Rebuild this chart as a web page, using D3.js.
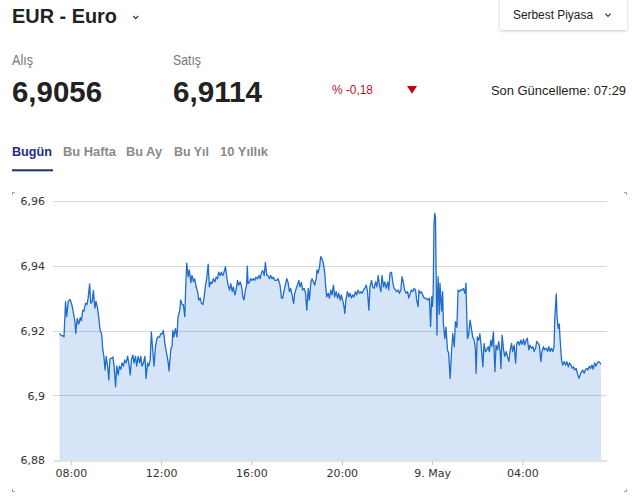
<!DOCTYPE html>
<html>
<head>
<meta charset="utf-8">
<script src="https://cdn.jsdelivr.net/npm/d3@7"></script>
<style>
  html, body { margin: 0; padding: 0; background: #fff; }
  svg { display: block; }
</style>
</head>
<body>
<svg id="chart" width="632" height="502"></svg>
<script>
// ---------- DATA ----------
const currencyTitle = "EUR - Euro";
const marketLabel = "Serbest Piyasa";
const buyLabel = "Alış", sellLabel = "Satış";
const buyValue = "6,9056", sellValue = "6,9114";
const changeText = "% -0,18";
const updateText = "Son Güncelleme: 07:29";
const tabs = ["Bugün", "Bu Hafta", "Bu Ay", "Bu Yıl", "10 Yıllık"];

// start of series: 8 May 07:30; entries are [minutes after start, rate]
const seriesStart = new Date(2019, 4, 8, 7, 30);
const rateSeries = [
[0,6.9191],[3,6.9186],[12,6.9181],[16,6.9289],[19,6.9243],[23,6.9289],[28,6.9296],[33,6.9279],[37,6.9254],[41,6.9227],
[43,6.9191],[47,6.9237],[51,6.922],[55,6.924],[58,6.923],[62,6.9263],[65,6.926],[69,6.9284],[73,6.928],[76,6.930],
[80,6.9344],[83,6.9284],[87,6.929],[90,6.9323],[94,6.9269],[97,6.929],[101,6.927],[104,6.9243],[108,6.920],[112,6.919],
[115,6.914],[118,6.9119],[121,6.9078],[124,6.912],[128,6.9088],[131,6.9047],[134,6.9113],[138,6.9114],[142,6.9118],[145,6.909],
[149,6.9026],[152,6.909],[156,6.9063],[159,6.909],[163,6.908],[166,6.910],[170,6.909],[173,6.9109],[177,6.910],[181,6.9121],
[184,6.910],[188,6.9063],[191,6.911],[195,6.9124],[198,6.910],[202,6.912],[205,6.909],[209,6.912],[213,6.910],[216,6.912],
[219,6.909],[223,6.910],[227,6.912],[230,6.9052],[234,6.910],[237,6.909],[241,6.911],[244,6.9196],[248,6.9135],[251,6.909],
[255,6.915],[259,6.9176],[262,6.918],[266,6.918],[269,6.919],[273,6.919],[276,6.920],[280,6.916],[285,6.9126],[289,6.910],
[291,6.9075],[296,6.9145],[299,6.915],[301,6.920],[304,6.918],[308,6.9206],[312,6.918],[315,6.9243],[319,6.9258],[322,6.9294],
[326,6.928],[329,6.928],[333,6.9243],[335,6.9325],[338,6.9408],[342,6.9366],[345,6.9387],[349,6.9348],[352,6.937],[356,6.9351],
[359,6.936],[363,6.9335],[367,6.932],[370,6.9294],[374,6.930],[377,6.9284],[381,6.928],[384,6.930],[388,6.934],[391,6.936],
[395,6.9405],[398,6.9335],[402,6.935],[405,6.9345],[409,6.936],[413,6.935],[416,6.9365],[420,6.936],[423,6.938],[427,6.937],
[430,6.938],[434,6.937],[437,6.938],[441,6.9397],[445,6.936],[448,6.934],[452,6.9325],[455,6.9345],[459,6.932],[462,6.9335],
[466,6.931],[469,6.9325],[473,6.9355],[476,6.934],[480,6.935],[484,6.9335],[487,6.9304],[490,6.9294],[494,6.9325],[497,6.934],
[499,6.9399],[501,6.9345],[505,6.935],[508,6.936],[512,6.9355],[515,6.936],[519,6.9355],[522,6.9365],[526,6.936],[530,6.937],
[533,6.936],[537,6.938],[540,6.9385],[544,6.937],[547,6.941],[551,6.937],[554,6.937],[558,6.936],[561,6.937],[565,6.936],
[568,6.9365],[572,6.9355],[577,6.9355],[581,6.936],[586,6.934],[590,6.930],[593,6.930],[597,6.9325],[600,6.934],[604,6.936],
[607,6.935],[611,6.932],[614,6.933],[618,6.931],[622,6.9284],[625,6.9315],[629,6.933],[632,6.934],[636,6.9355],[639,6.9335],
[643,6.9348],[646,6.9325],[650,6.933],[654,6.9315],[657,6.9263],[661,6.933],[664,6.9294],[668,6.935],[671,6.936],[675,6.935],
[678,6.934],[682,6.936],[684,6.9387],[687,6.9377],[691,6.9397],[694,6.9428],[698,6.942],[701,6.9408],[705,6.9377],[707,6.934],
[710,6.9304],[714,6.9315],[717,6.930],[721,6.9325],[724,6.931],[728,6.934],[731,6.9304],[735,6.932],[739,6.930],[742,6.9315],
[746,6.9294],[749,6.931],[753,6.929],[756,6.9274],[758,6.9253],[761,6.9294],[765,6.932],[769,6.9304],[772,6.9315],[776,6.930],
[779,6.931],[783,6.9304],[786,6.932],[790,6.931],[793,6.9325],[797,6.9315],[801,6.932],[804,6.9315],[808,6.9325],[811,6.933],
[815,6.934],[818,6.9325],[822,6.9263],[825,6.9335],[829,6.9355],[832,6.9335],[836,6.933],[840,6.935],[843,6.9335],[847,6.937],
[850,6.934],[854,6.932],[857,6.937],[861,6.9335],[864,6.935],[868,6.933],[872,6.935],[875,6.9325],[878,6.9377],[882,6.938],
[886,6.9346],[889,6.933],[893,6.9325],[896,6.932],[900,6.9325],[903,6.9315],[907,6.9325],[910,6.9366],[914,6.9346],[917,6.9325],
[921,6.9315],[925,6.932],[928,6.930],[932,6.9315],[935,6.9325],[939,6.932],[942,6.933],[946,6.9325],[949,6.9294],[953,6.9274],
[955,6.9325],[958,6.9315],[962,6.932],[965,6.931],[969,6.930],[972,6.930],[976,6.9297],[979,6.9294],[983,6.930],[986,6.9212],
[989,6.9304],[991,6.9274],[993,6.932],[995,6.9521],[997,6.9562],[999,6.955],[1001,6.935],[1003,6.9186],[1004,6.929],[1006,6.9366],
[1009,6.925],[1011,6.9346],[1015,6.926],[1018,6.932],[1020,6.9222],[1024,6.9175],[1027,6.921],[1031,6.914],[1034,6.913],[1038,6.9052],
[1042,6.914],[1045,6.919],[1049,6.915],[1052,6.9227],[1056,6.921],[1059,6.9325],[1063,6.932],[1066,6.9326],[1070,6.9325],[1073,6.933],
[1077,6.9315],[1080,6.9346],[1082,6.925],[1084,6.9175],[1087,6.9186],[1091,6.9232],[1095,6.9202],[1098,6.918],[1102,6.917],[1105,6.9145],
[1107,6.9068],[1110,6.918],[1114,6.917],[1117,6.919],[1121,6.9145],[1125,6.9088],[1128,6.916],[1132,6.9135],[1135,6.914],[1139,6.915],
[1142,6.9135],[1146,6.917],[1149,6.915],[1153,6.9196],[1157,6.9073],[1160,6.9155],[1164,6.914],[1167,6.9166],[1171,6.9135],[1173,6.9083],
[1176,6.9186],[1180,6.914],[1183,6.912],[1187,6.9135],[1190,6.912],[1194,6.9104],[1197,6.9135],[1201,6.916],[1204,6.9135],[1208,6.9155],
[1212,6.9099],[1215,6.916],[1219,6.9166],[1222,6.9155],[1226,6.917],[1229,6.9157],[1233,6.9173],[1236,6.9155],[1240,6.917],[1243,6.9176],
[1247,6.914],[1250,6.9155],[1254,6.9145],[1258,6.915],[1261,6.9135],[1265,6.9145],[1268,6.9166],[1272,6.916],[1275,6.9155],[1279,6.9104],
[1282,6.9135],[1286,6.915],[1289,6.914],[1293,6.9145],[1297,6.9135],[1300,6.915],[1304,6.9135],[1307,6.9145],[1311,6.9135],[1314,6.915],
[1316,6.9238],[1320,6.9313],[1322,6.9243],[1325,6.9207],[1328,6.922],[1330,6.9176],[1334,6.9109],[1337,6.9093],[1341,6.9104],[1345,6.9093],
[1348,6.9104],[1352,6.9088],[1355,6.91],[1359,6.9093],[1362,6.9083],[1366,6.9088],[1369,6.9078],[1373,6.9083],[1376,6.9068],[1380,6.9052],
[1383,6.9062],[1387,6.9073],[1390,6.9078],[1394,6.9068],[1397,6.9078],[1401,6.9083],[1404,6.9078],[1408,6.909],[1411,6.9083],[1415,6.9093],
[1418,6.908],[1422,6.91],[1425,6.909],[1429,6.91],[1433,6.9104],[1436,6.91],[1439,6.9095]
];

const xTickTimes = [
  new Date(2019,4,8,8,0), new Date(2019,4,8,12,0), new Date(2019,4,8,16,0),
  new Date(2019,4,8,20,0), new Date(2019,4,9,0,0), new Date(2019,4,9,4,0)
];
const xTickLabels = ["08:00", "12:00", "16:00", "20:00", "9. May", "04:00"];
const yTickValues = [6.88, 6.90, 6.92, 6.94, 6.96];
const yTickLabels = ["6,88", "6,9", "6,92", "6,94", "6,96"];
const xDomain = [new Date(2019,4,8,7,14), new Date(2019,4,9,7,44)];
const yDomain = [6.88, 6.96];

// ---------- DRAW ----------
const svg = d3.select("#chart");
const sans = "'Liberation Sans', Arial, sans-serif";
const axisFont = "'DejaVu Sans', Verdana, sans-serif";

const defs = svg.append("defs");
const f = defs.append("filter").attr("id", "shadow").attr("x", "-10%").attr("y", "-30%").attr("width", "120%").attr("height", "170%");
f.append("feDropShadow").attr("dx", 0).attr("dy", 1).attr("stdDeviation", 1.4).attr("flood-color", "#000").attr("flood-opacity", 0.22);

// header
svg.append("text").attr("x", 12).attr("y", 22.7).attr("font-family", sans).attr("font-weight", "bold")
  .attr("font-size", 21).attr("fill", "#222").attr("textLength", 105).attr("lengthAdjust", "spacingAndGlyphs")
  .text(currencyTitle);
svg.append("path").attr("d", "M133.2,16 L135.7,18.6 L138.2,16").attr("fill", "none").attr("stroke", "#333").attr("stroke-width", 1.2);

svg.append("rect").attr("x", 500).attr("y", -3).attr("width", 127).attr("height", 33).attr("rx", 1.5)
  .attr("fill", "#fff").attr("filter", "url(#shadow)");
svg.append("text").attr("x", 513).attr("y", 19).attr("font-family", sans).attr("font-size", 12.5)
  .attr("fill", "#222").attr("textLength", 80).attr("lengthAdjust", "spacingAndGlyphs").text(marketLabel);
svg.append("path").attr("d", "M605.3,13.6 L608,16.4 L610.7,13.6").attr("fill", "none").attr("stroke", "#333").attr("stroke-width", 1.2);

svg.append("text").attr("x", 12).attr("y", 65).attr("font-family", sans).attr("font-size", 14)
  .attr("fill", "#777").attr("textLength", 21).attr("lengthAdjust", "spacingAndGlyphs").text(buyLabel);
svg.append("text").attr("x", 173).attr("y", 65).attr("font-family", sans).attr("font-size", 14)
  .attr("fill", "#777").attr("textLength", 28).attr("lengthAdjust", "spacingAndGlyphs").text(sellLabel);
svg.append("text").attr("x", 12).attr("y", 101.7).attr("font-family", sans).attr("font-weight", "bold").attr("font-size", 30)
  .attr("fill", "#222").attr("textLength", 90).attr("lengthAdjust", "spacingAndGlyphs").text(buyValue);
svg.append("text").attr("x", 173).attr("y", 101.7).attr("font-family", sans).attr("font-weight", "bold").attr("font-size", 30)
  .attr("fill", "#222").attr("textLength", 89).attr("lengthAdjust", "spacingAndGlyphs").text(sellValue);
svg.append("text").attr("x", 332).attr("y", 94).attr("font-family", sans).attr("font-size", 12.5)
  .attr("fill", "#b5121b").attr("textLength", 41).attr("lengthAdjust", "spacingAndGlyphs").text(changeText);
svg.append("path").attr("d", "M407,86 L417,86 L412,93.7 Z").attr("fill", "#c4000b");
svg.append("text").attr("x", 626).attr("y", 95).attr("text-anchor", "end").attr("font-family", sans).attr("font-size", 13.5)
  .attr("fill", "#222").attr("textLength", 135).attr("lengthAdjust", "spacingAndGlyphs").text(updateText);

// tabs
const tabX = [12, 63, 126, 174, 220];
const tabW = [40, 53, 36, 35, 48];
tabs.forEach((t, i) => {
  svg.append("text").attr("x", tabX[i]).attr("y", 156).attr("font-family", sans).attr("font-weight", "bold")
    .attr("font-size", 13.5).attr("fill", i === 0 ? "#1b2d7d" : "#8a8a8a")
    .attr("textLength", tabW[i]).attr("lengthAdjust", "spacingAndGlyphs").text(t);
});
svg.append("rect").attr("x", 12).attr("y", 169.3).attr("width", 41).attr("height", 2).attr("fill", "#1b2d7d");

// corner marks of the chart card
const cm = svg.append("g").attr("stroke", "#9a9a9a").attr("stroke-width", 1).attr("fill", "none");
cm.append("path").attr("d", "M12.5,195 V192.5 H15");
cm.append("path").attr("d", "M624,192.5 H626.5 V195");
cm.append("path").attr("d", "M12.5,489 V491.5 H15");
cm.append("path").attr("d", "M624,491.5 H626.5 V489");

// chart
const x = d3.scaleTime().domain(xDomain).range([53.5, 606.7]);
const y = d3.scaleLinear().domain(yDomain).range([460, 201]);
const data = rateSeries.map(d => ({ t: new Date(seriesStart.getTime() + d[0] * 60000), v: d[1] }));

// grid
svg.append("g").selectAll("line").data(yTickValues.slice(1)).join("line")
  .attr("x1", 53.5).attr("x2", 606.7)
  .attr("y1", d => Math.round(y(d)) + 0.5).attr("y2", d => Math.round(y(d)) + 0.5)
  .attr("stroke", "#d8d8d8").attr("stroke-width", 1);

// area + line
const area = d3.area().x(d => x(d.t)).y0(y(yDomain[0])).y1(d => y(d.v));
const line = d3.line().x(d => x(d.t)).y(d => y(d.v));
svg.append("path").datum(data).attr("d", area).attr("fill", "#2f7ed8").attr("fill-opacity", 0.2);
svg.append("path").datum(data).attr("d", line).attr("fill", "none").attr("stroke", "#1f6ccc")
  .attr("stroke-width", 1.3).attr("stroke-linejoin", "round");

// y axis labels
const yAxis = d3.axisLeft(y).tickValues(yTickValues).tickSize(0)
  .tickFormat((d, i) => yTickLabels[i]);
const gy = svg.append("g").attr("transform", "translate(50,0)").call(yAxis);
gy.select(".domain").remove();
gy.selectAll("text").attr("x", -5).attr("dy", "0.36em").attr("font-family", axisFont)
  .attr("font-size", 11).attr("fill", "#333");

// x axis
const xAxis = d3.axisBottom(x).tickValues(xTickTimes).tickSize(5).tickSizeOuter(0)
  .tickFormat((d, i) => xTickLabels[i]);
const gx = svg.append("g").attr("transform", "translate(0,460.5)").call(xAxis);
gx.select(".domain").attr("stroke", "#c8c8c8");
gx.selectAll(".tick line").attr("stroke", "#c8c8c8");
gx.selectAll("text").attr("y", 9).attr("dy", "0.71em").attr("font-family", axisFont)
  .attr("font-size", 11).attr("fill", "#333");
</script>
</body>
</html>
